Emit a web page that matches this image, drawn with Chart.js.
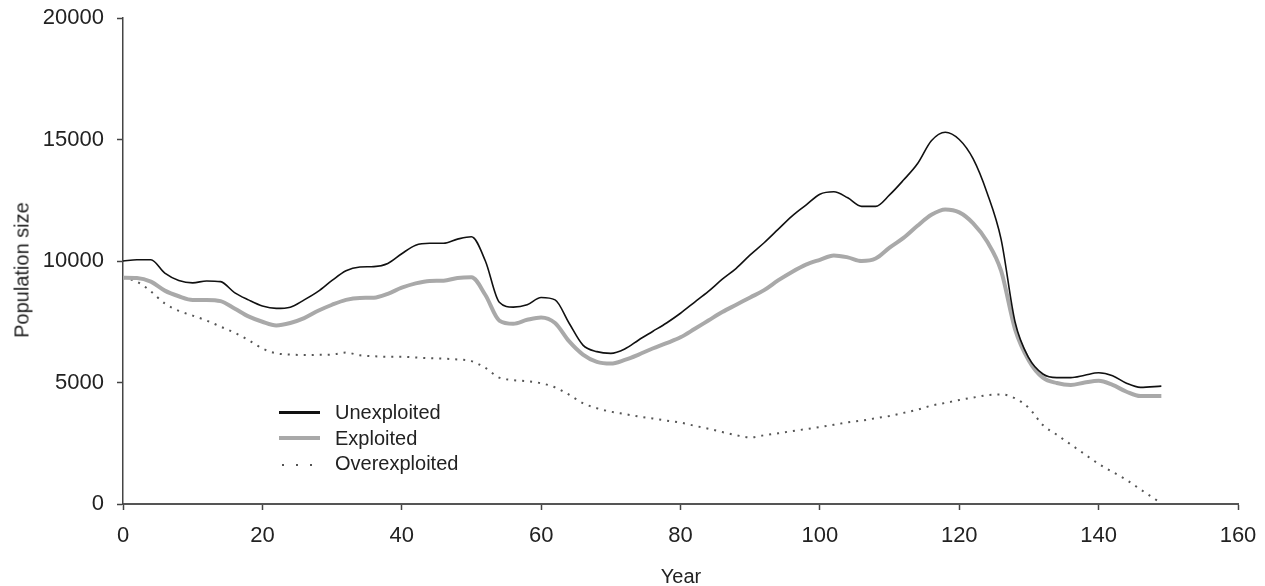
<!DOCTYPE html>
<html lang="en">
<head>
    <meta charset="UTF-8">
    <title>Population size</title>
    <script src="https://cdn.jsdelivr.net/npm/chart.js"></script>
    <style>
        body { margin: 0; background: #fff; font-family: 'Liberation Sans', Arial, sans-serif; color: #222; }
        .wrap { position: relative; width: 1265px; height: 586px; }
        .ytitle { position: absolute; left: 22px; top: 270px; transform: translate(-50%, -50%) rotate(-90deg); font-size: 20px; white-space: nowrap; }
        .xtitle { position: absolute; left: 681px; top: 576px; transform: translate(-50%, -50%); font-size: 20px; }
        .legend { position: absolute; left: 279px; top: 400px; font-size: 20px; }
        .item { position: relative; height: 25.5px; line-height: 25px; padding-left: 56px; }
        .item span { position: absolute; left: 0; top: 50%; width: 41px; }
        .black { height: 3px; margin-top: -1.5px; background: #111; }
        .grey { height: 4px; margin-top: -2px; background: #a9a9a9; }
        .dots { height: 2px; margin-top: 0; background-image: radial-gradient(circle, #555 0.9px, transparent 1.2px); background-size: 14px 2px; background-position: -3px 0; }
    </style>
</head>
<body>
    <div class="wrap">
        <canvas id="myChart" width="1265" height="586"></canvas>
        <div class="ytitle">Population size</div>
        <div class="xtitle">Year</div>
        <div class="legend">
            <div class="item"><span class="black"></span>Unexploited</div>
            <div class="item"><span class="grey"></span>Exploited</div>
            <div class="item"><span class="dots"></span>Overexploited</div>
        </div>
    </div>

<script>
    // years 0..146 every 2 years, then the last year 149
    var years = [0, 2, 4, 6, 8, 10, 12, 14, 16, 18, 20, 22, 24, 26, 28, 30, 32, 34, 36, 38,
        40, 42, 44, 46, 48, 50, 52, 54, 56, 58, 60, 62, 64, 66, 68, 70, 72, 74, 76, 78,
        80, 82, 84, 86, 88, 90, 92, 94, 96, 98, 100, 102, 104, 106, 108, 110, 112, 114, 116, 118,
        120, 122, 124, 126, 128, 130, 132, 134, 136, 138, 140, 142, 144, 146, 149];

    var unexploited = [10000, 10050, 10050, 9500, 9200, 9100, 9180, 9150, 8700, 8400,
        8150, 8050, 8100, 8400, 8750, 9200, 9600, 9750, 9770, 9900,
        10300, 10650, 10730, 10730, 10900, 11000, 10000, 8300, 8100, 8200,
        8500, 8400, 7450, 6540, 6270, 6200, 6380, 6750, 7100, 7450,
        7850, 8300, 8750, 9250, 9700, 10250, 10750, 11300, 11850, 12300,
        12750, 12850, 12600, 12250, 12250, 12720, 13330, 14000, 14950, 15300,
        15000, 14200, 12800, 10900, 7500, 6000, 5350, 5200, 5200, 5300,
        5400, 5280, 4970, 4800, 4850];

    var exploited = [9310, 9300, 9150, 8780, 8550, 8400, 8400, 8350, 8050, 7720,
        7500, 7350, 7450, 7650, 7950, 8200, 8400, 8480, 8490, 8650,
        8900, 9080, 9180, 9190, 9300, 9330, 8600, 7550, 7420, 7580,
        7680, 7450, 6700, 6150, 5850, 5780, 5930, 6150, 6400, 6620,
        6860, 7200, 7550, 7900, 8200, 8500, 8800, 9200, 9550, 9850,
        10050, 10230, 10150, 10000, 10100, 10550, 10950, 11450, 11900, 12120,
        12000, 11550, 10800, 9600, 7200, 5900, 5200, 4980, 4900, 5000,
        5070, 4900, 4620, 4440, 4440];

    var overexploited = [9310, 9150, 8750, 8250, 7950, 7750, 7550, 7300, 7050, 6750,
        6400, 6200, 6150, 6130, 6140, 6150, 6230, 6120, 6080, 6060,
        6060, 6030, 6000, 5980, 5950, 5880, 5600, 5200, 5100, 5050,
        4970, 4800, 4500, 4150, 3940, 3800, 3700, 3600, 3520, 3430,
        3350, 3220, 3100, 2960, 2830, 2740, 2830, 2910, 3000, 3080,
        3170, 3260, 3360, 3430, 3530, 3620, 3750, 3880, 4050, 4160,
        4280, 4380, 4480, 4510, 4350, 3950, 3250, 2850, 2450, 2050,
        1650, 1320, 990, 600, 30];

    var xTicks = [0, 20, 40, 60, 80, 100, 120, 140, 160];
    var yTicks = [0, 5000, 10000, 15000, 20000];

    function pontos(valores) {
        return years.map(function (ano, i) { return { x: ano, y: valores[i] }; });
    }

    Chart.defaults.font.family = "'Liberation Sans', Arial, sans-serif";
    Chart.defaults.color = '#222';

    const ctx = document.getElementById('myChart');

    new Chart(ctx, {
        type: 'line',
        data: {
            datasets: [{
                label: 'Unexploited',
                data: pontos(unexploited),
                borderColor: '#111',
                borderWidth: 1.6,
                cubicInterpolationMode: 'monotone',
                pointRadius: 0
            },
            {
                label: 'Exploited',
                data: pontos(exploited),
                borderColor: '#a9a9a9',
                borderWidth: 4,
                cubicInterpolationMode: 'monotone',
                pointRadius: 0
            },
            {
                label: 'Overexploited',
                data: pontos(overexploited),
                borderColor: '#555',
                borderWidth: 2,
                borderDash: [2, 6],
                cubicInterpolationMode: 'monotone',
                pointRadius: 0
            }]
        },
        options: {
            responsive: false,
            animation: false,
            devicePixelRatio: 1,
            layout: { padding: { top: 18, right: 27, left: 0, bottom: 0 } },
            plugins: { legend: { display: false }, tooltip: { enabled: false } },
            scales: {
                x: {
                    type: 'linear',
                    min: 0,
                    max: 160,
                    afterBuildTicks: function (s) { s.ticks = xTicks.map(function (v) { return { value: v }; }); },
                    afterFit: function (s) { s.height = 82; s.paddingLeft = 0; s.paddingRight = 0; },
                    grid: { drawOnChartArea: false, drawTicks: true, tickLength: 6, tickColor: '#444', tickWidth: 1.5 },
                    border: { color: '#555', width: 2 },
                    ticks: { font: { size: 22 }, padding: 13, maxRotation: 0 }
                },
                y: {
                    min: 0,
                    max: 20000,
                    afterBuildTicks: function (s) { s.ticks = yTicks.map(function (v) { return { value: v }; }); },
                    afterFit: function (s) { s.width = 123; s.paddingTop = 0; s.paddingBottom = 0; },
                    grid: { drawOnChartArea: false, drawTicks: true, tickLength: 6, tickColor: '#444', tickWidth: 1.5 },
                    border: { color: '#444', width: 1.5 },
                    ticks: { font: { size: 22 }, padding: 13, callback: function (v) { return String(v); } }
                }
            }
        }
    });
</script>
</body>
</html>
